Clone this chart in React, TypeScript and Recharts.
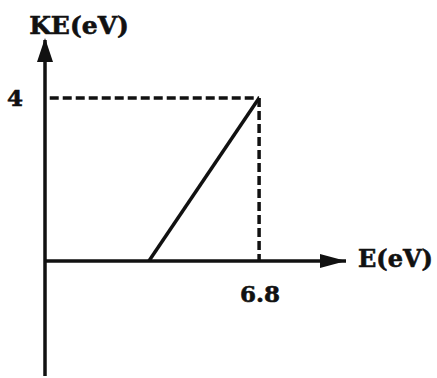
import { LineChart, Line, XAxis, YAxis, ReferenceLine, ReferenceDot } from 'recharts';

// photoelectric plot: kinetic energy vs photon energy
const energy = [3.3, 6.8];
const kinetic = [0, 4];
const yTicks = [4];
const xMarks = [6.8];
const xExtent = [0, 9.56];
const yExtent = [-2.82, 5.42];

const data = energy.map((e, i) => ({ e, ke: kinetic[i] }));
const FONT = '"DejaVu Serif", serif';
const INK = '#111';

function UpArrow({ cx, cy }: any) {
  return (
    <g>
      <path d={`M${cx},${cy - 2} L${cx - 8},${cy + 22} L${cx + 8},${cy + 22} Z`} fill={INK} />
      <text x={cx + 34} y={cy - 6} textAnchor="middle" fontFamily={FONT} fontWeight="bold" fontSize={25} fill={INK} stroke={INK} strokeWidth={0.6}>
        KE(eV)
      </text>
    </g>
  );
}

function RightArrow({ cx, cy }: any) {
  return (
    <g>
      <path d={`M${cx},${cy} L${cx - 26},${cy - 7} L${cx - 26},${cy + 7} Z`} fill={INK} />
      <text x={cx + 12} y={cy + 6} fontFamily={FONT} fontWeight="bold" fontSize={24} fill={INK} stroke={INK} strokeWidth={0.6}>
        E(eV)
      </text>
    </g>
  );
}

function XMark({ cx, cy, value }: any) {
  return (
    <text x={cx + 1} y={cy + 41} textAnchor="middle" fontFamily={FONT} fontWeight="bold" fontSize={23} fill={INK} stroke={INK} strokeWidth={0.6}>
      {value}
    </text>
  );
}

export default function App() {
  return (
    <div style={{ position: 'absolute', left: 0, top: 0, background: '#fff' }}>
      <LineChart width={437} height={378} data={data} margin={{ top: 40, right: 91, bottom: 2, left: 0 }}>
        <XAxis type="number" dataKey="e" domain={xExtent} hide />
        <YAxis
          type="number"
          domain={yExtent}
          ticks={yTicks}
          width={45}
          axisLine={{ stroke: INK, strokeWidth: 3.5 }}
          tickLine={false}
          tickMargin={16}
          tick={{ fontFamily: FONT, fontWeight: 'bold', fontSize: 23, fill: INK, stroke: INK, strokeWidth: 0.6 }}
        />
        <ReferenceLine
          segment={[{ x: xExtent[0], y: 0 }, { x: xExtent[1], y: 0 }]}
          stroke={INK}
          strokeWidth={3.5}
          ifOverflow="visible"
        />
        <ReferenceLine
          segment={[{ x: 0.15, y: kinetic[1] }, { x: energy[1], y: kinetic[1] }]}
          stroke={INK}
          strokeWidth={3.5}
          strokeDasharray="9 4"
        />
        <ReferenceLine
          segment={[{ x: energy[1], y: kinetic[1] }, { x: energy[1], y: 0 }]}
          stroke={INK}
          strokeWidth={3.5}
          strokeDasharray="9 4"
        />
        <Line
          type="linear"
          dataKey="ke"
          stroke={INK}
          strokeWidth={3.5}
          dot={false}
          isAnimationActive={false}
        />
        <ReferenceDot x={0} y={yExtent[1]} r={0} ifOverflow="visible" shape={<UpArrow />} />
        <ReferenceDot x={xExtent[1]} y={0} r={0} ifOverflow="visible" shape={<RightArrow />} />
        {xMarks.map((m) => (
          <ReferenceDot key={m} x={m} y={0} r={0} ifOverflow="visible" shape={<XMark value={m} />} />
        ))}
      </LineChart>
    </div>
  );
}
